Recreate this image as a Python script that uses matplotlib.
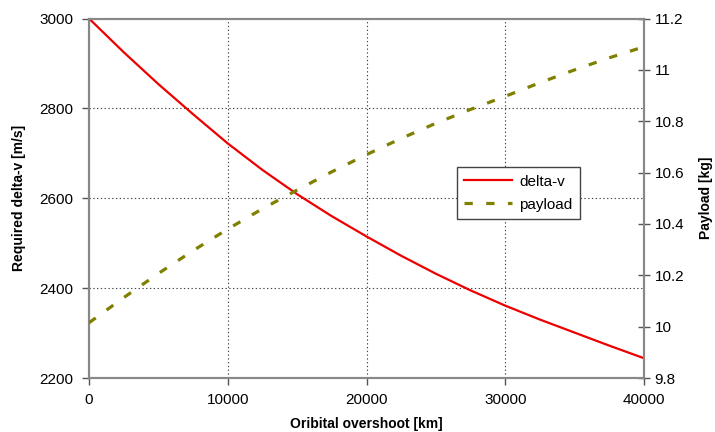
import matplotlib
matplotlib.use("Agg")
import matplotlib.pyplot as plt
from matplotlib.ticker import FuncFormatter

plt.rcParams['font.family'] = ['Liberation Sans', 'DejaVu Sans']

overshoot_km = [0, 2500, 5000, 7500, 10000, 12500, 15000, 17500, 20000,
                22500, 25000, 27500, 30000, 32500, 35000, 37500, 40000]
delta_v = [3000, 2925, 2854, 2787, 2722, 2663, 2609, 2560, 2515,
           2472, 2432, 2395, 2361, 2330, 2301, 2272, 2244]
payload = [10.015, 10.113, 10.207, 10.296, 10.38, 10.459, 10.532, 10.603, 10.67,
           10.733, 10.792, 10.846, 10.897, 10.95, 11.0, 11.047, 11.09]

x_ticks = [0, 10000, 20000, 30000, 40000]
left_ticks = [2200, 2400, 2600, 2800, 3000]
right_ticks = [9.8, 10.0, 10.2, 10.4, 10.6, 10.8, 11.0, 11.2]

fig = plt.figure(figsize=(7.15, 4.32), dpi=100)
ax = fig.add_axes([89/715, 1-378/432, (644-89)/715, (378-18.5)/432])
ax2 = ax.twinx()

l1, = ax.plot(overshoot_km, delta_v, color='#ee0000', lw=1.6, label='delta-v', zorder=3)
l2, = ax2.plot(overshoot_km, payload, color='#808000', lw=2.3, label='payload',
               dashes=(2.6, 4.2), dash_capstyle='butt', zorder=3)

ax.set_xlim(0, 40000)
ax.set_ylim(2200, 3000)
ax2.set_ylim(9.8, 11.2)
ax.set_xticks(x_ticks)
ax.set_yticks(left_ticks)
ax2.set_yticks(right_ticks)
ax2.yaxis.set_major_formatter(FuncFormatter(lambda v, p: f"{v:g}"))

ax.grid(True, color='#444444', linestyle=(0, (1.2, 2.2)), linewidth=0.8)
ax.set_axisbelow(True)

for a in (ax, ax2):
    for s in a.spines.values():
        s.set_color('#888888')
        s.set_linewidth(1.5)

ax.tick_params(axis='y', direction='out', length=5, width=1, color='#555555',
               labelsize=11, pad=6)
ax.tick_params(axis='x', direction='out', length=5, width=1, color='#555555',
               labelsize=11, pad=6)
ax2.tick_params(axis='y', direction='inout', length=9, width=1, color='#555555',
                labelsize=11, pad=3)

ax.set_xlabel('Oribital overshoot [km]', fontsize=10, fontweight='bold', labelpad=7)
ax.set_ylabel('Required delta-v [m/s]', fontsize=10, fontweight='bold', labelpad=10)
ax2.set_ylabel('Payload [kg]', fontsize=10, fontweight='bold', labelpad=11)

leg = ax2.legend(handles=[l1, l2], loc='upper left',
                 bbox_to_anchor=((456.7-89)/555, 1-(167-18.5)/359.5),
                 fontsize=11, frameon=True, fancybox=False, framealpha=1,
                 edgecolor='#444444', borderpad=0.5, handlelength=3.1,
                 labelspacing=0.6, handletextpad=0.5, borderaxespad=0)
leg.get_frame().set_linewidth(1.0)

fig.savefig('out.png', dpi=100)
